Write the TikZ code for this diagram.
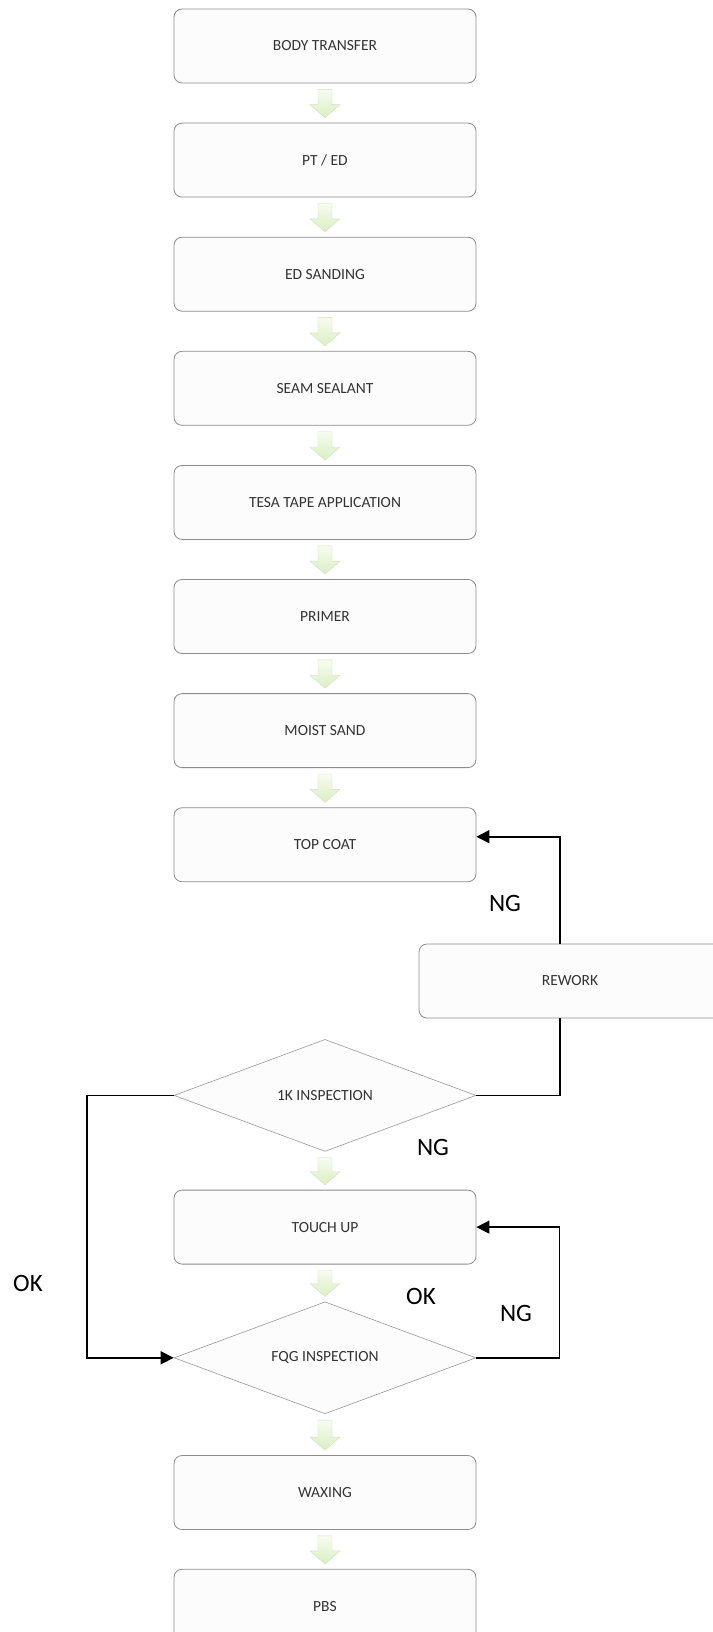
\documentclass[tikz,border=0pt]{standalone}
\usepackage{fontspec}
\setmainfont{Carlito}
\usetikzlibrary{positioning, calc, shapes.geometric, arrows.meta}
\definecolor{boxline}{HTML}{8C8C8C}
\definecolor{boxfill}{HTML}{FCFCFC}
\definecolor{boxtext}{HTML}{333333}
\definecolor{flowtop}{HTML}{F7FCF0}
\definecolor{flowbot}{HTML}{DAEFC2}
\definecolor{flowedge}{HTML}{CFE2BA}

\begin{document}
\begin{tikzpicture}[x=1pt, y=-1pt,
      every node/.style={font=\fontsize{15.5}{18}\selectfont, text=boxtext, align=center},
      box/.style={draw=boxline, fill=boxfill, line width=0.8pt, rounded corners=8pt,
                  minimum width=302pt, minimum height=74pt},
      check/.style={diamond, aspect=2.7, draw=black!40, fill=boxfill, line width=0.6pt,
                    minimum width=302pt, minimum height=112pt, inner sep=0pt},
      flow/.style={draw=flowedge, line width=0.4pt, top color=flowtop, bottom color=flowbot},
      link/.style={-{Triangle[length=13pt, width=13pt]}, line width=1.6pt},
      line/.style={line width=1.6pt},
      tag/.style={font=\fontsize{25}{30}\selectfont, text=black},
  ]
    \useasboundingbox (0,0) rectangle (712,1632);

    \node[box] (body) at (325,46) {BODY TRANSFER};
    \node[box, below=39.3pt of body] (pted) {PT / ED};
    \node[box, below=39.3pt of pted] (edsand) {ED SANDING};
    \node[box, below=39.3pt of edsand] (seam) {SEAM SEALANT};
    \node[box, below=39.3pt of seam] (tesa) {TESA TAPE APPLICATION};
    \node[box, below=39.3pt of tesa] (primer) {PRIMER};
    \node[box, below=39.3pt of primer] (moist) {MOIST SAND};
    \node[box, below=39.3pt of moist] (topcoat) {TOP COAT};
    \node[box] (rework) at (570,981) {REWORK};
    \node[check, below=157pt of topcoat] (insp1) {1K INSPECTION};
    \node[box, below=38pt of insp1] (touchup) {TOUCH UP};
    \node[check, below=37pt of touchup] (insp2) {FQG INSPECTION};
    \node[box, below=41pt of insp2] (waxing) {WAXING};
    \node[box, below=39pt of waxing] (pbs) {PBS};

    % block arrows down the line
    \foreach \a/\b in {body/pted, pted/edsand, edsand/seam, seam/tesa, tesa/primer,
                       primer/moist, moist/topcoat, insp1/touchup, touchup/insp2,
                       insp2/waxing, waxing/pbs}
      \path[flow] ($(\a.south)+(-7,6)$) -- ($(\b.north)+(-7,-18)$)
        -- ($(\b.north)+(-15,-18)$) -- ($(\b.north)+(0,-5)$)
        -- ($(\b.north)+(15,-18)$) -- ($(\b.north)+(7,-18)$)
        -- ($(\a.south)+(7,6)$) -- cycle;

    \draw[link] ([xshift=-10pt]rework.north) |- ([yshift=8pt]topcoat.east);
    \draw[line] (insp1.east) -| ([xshift=-10pt]rework.south);
    \draw[link] (insp1.west) -- ++(-87,0) |- (insp2.west);
    \draw[link] (insp2.east) -- ++(83,0) |- (touchup.east);

    \node[tag] (ngtop) at (505,903) {NG};
    \node[tag] (ngmid) at (433,1147) {NG};
    \node[tag] (okleft) at (28,1283) {OK};
    \node[tag] (okmid) at (421,1296) {OK};
    \node[tag] (ngright) at (516,1313) {NG};
  \end{tikzpicture}
\end{document}
